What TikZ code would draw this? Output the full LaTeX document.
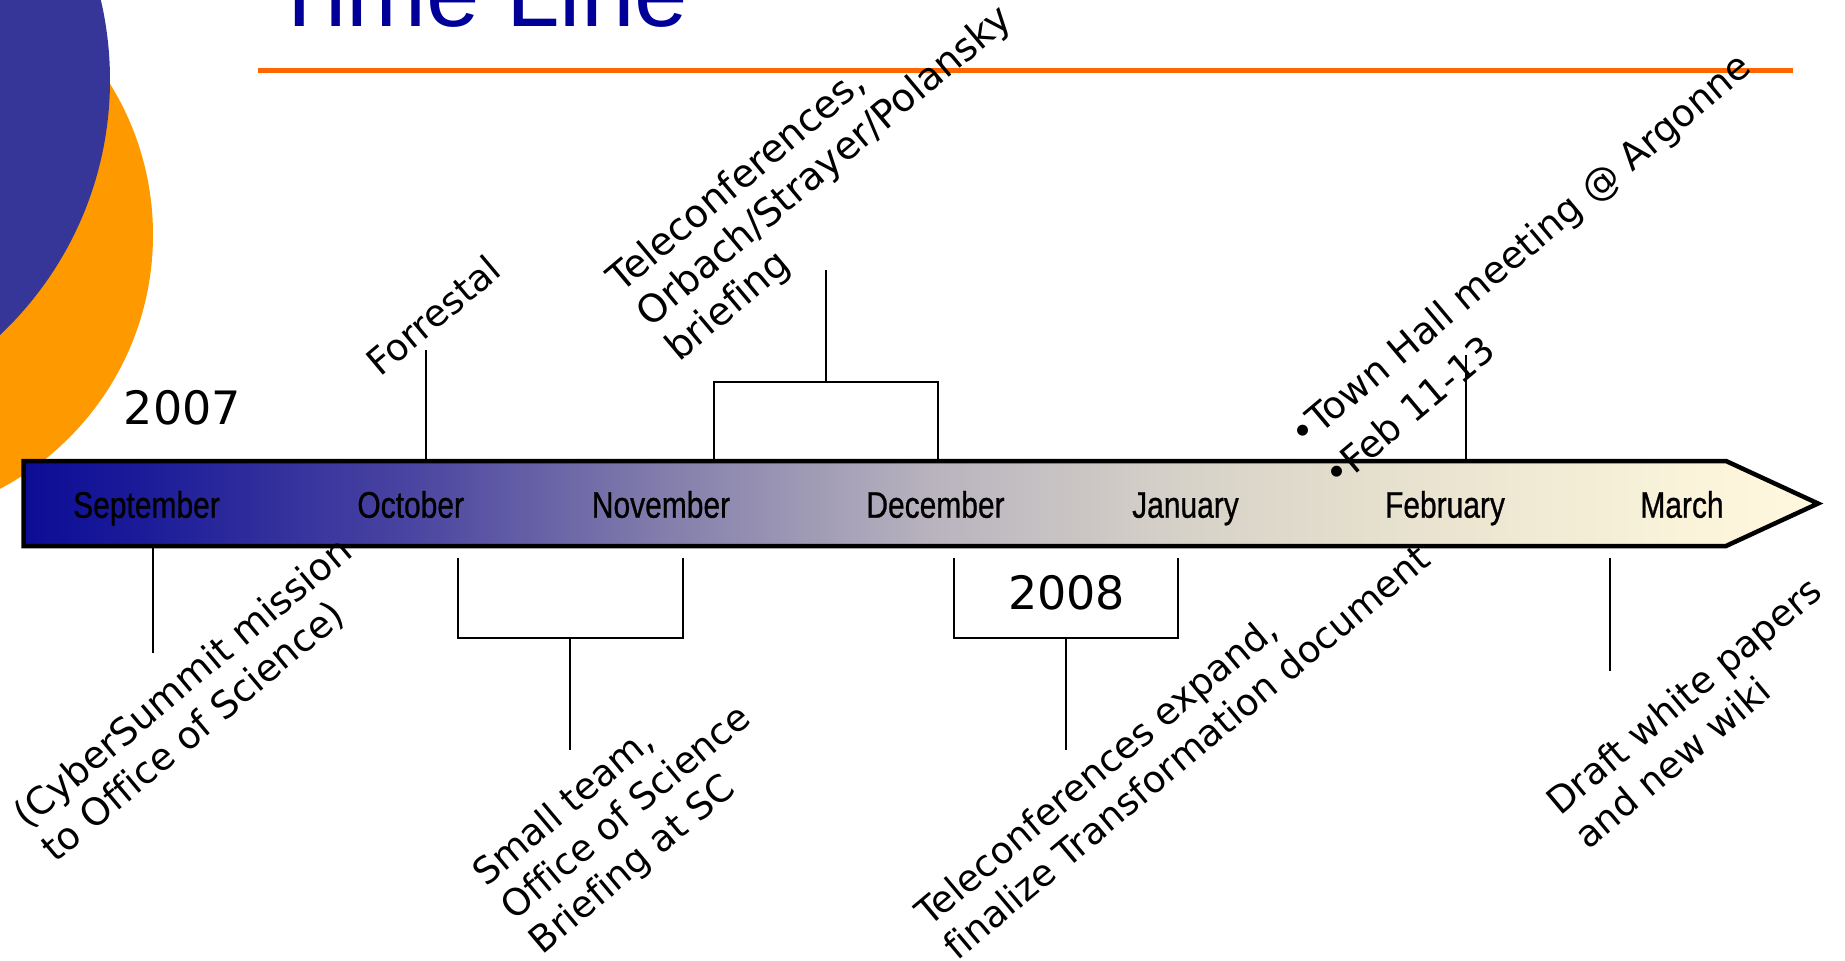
\documentclass[tikz,border=0pt]{standalone}
\usepackage{fontspec}
\setmainfont[Ligatures=NoCommon]{DejaVu Sans}
\newfontfamily\titlefont{Liberation Sans}
\newfontfamily\monthfont[FakeStretch=0.81,FakeBold=0.7]{Liberation Sans}
\definecolor{titleblue}{RGB}{0,0,153}
\definecolor{rulorange}{RGB}{255,102,0}
\definecolor{circorange}{RGB}{255,153,0}
\definecolor{circblue}{RGB}{54,54,153}
\pgfdeclarehorizontalshading{barshade}{100bp}{rgb(0bp)=(0.047,0.047,0.588); rgb(25bp)=(0.047,0.047,0.588); rgb(28.4bp)=(0.11,0.11,0.6); rgb(35.8bp)=(0.29,0.27,0.63); rgb(42.75bp)=(0.51,0.49,0.67); rgb(50.4bp)=(0.725,0.705,0.745); rgb(57.35bp)=(0.843,0.824,0.784); rgb(64.6bp)=(0.92,0.894,0.816); rgb(71.2bp)=(0.98,0.953,0.855); rgb(75bp)=(1,0.973,0.87); rgb(100bp)=(1,0.973,0.87)}
\tikzset{
  conn/.style={draw=black, line width=2pt},
  month/.style={font=\monthfont\fontsize{37}{44}\selectfont, anchor=base, inner sep=0pt},
  year/.style={font=\fontsize{46}{55}\selectfont, anchor=base, inner sep=0pt},
  lbl/.style={font=\fontsize{37}{44}\selectfont, anchor=base west, inner sep=0pt},
  lblbig/.style={font=\fontsize{38.5}{46}\selectfont, anchor=base west, inner sep=0pt},
  lblmid/.style={font=\fontsize{37.6}{45}\selectfont, anchor=base west, inner sep=0pt},
}
\begin{document}
\begin{tikzpicture}[x=1pt,y=-1pt]
\clip (0,0) rectangle (1845,961);
\fill[white] (0,0) rectangle (1845,961);
% decorative circles
\fill[circorange] (-134,235) circle[radius=287];
\fill[circblue] (-240.6,80) circle[radius=350.6];
% title and rule
\node[anchor=base west, inner sep=0pt, font=\titlefont\fontsize{96}{104}\selectfont, text=titleblue] (title) at (270,27) {Time Line};
\coordinate (ruleL) at (257.7,70.6);
\coordinate (ruleR) at (1793.3,70.6);
\draw[rulorange, line width=5.5pt] (ruleL) -- (ruleR);
% timeline bar
\shadedraw[shading=barshade, draw=black, line width=4.5pt, line join=miter]
  (23.5,461) -- (1726,461) -- (1818,503.5) -- (1726,546) -- (23.5,546) -- cycle;
% months
\node[month] (sep) at (146.5,517.7) {September};
\node[month] (oct) at (410.7,517.7) {October};
\node[month] (nov) at (661,517.7) {November};
\node[month] (dec) at (935.5,517.7) {December};
\node[month] (jan) at (1185.5,517.7) {January};
\node[month] (feb) at (1445,517.7) {February};
\node[month] (mar) at (1682,517.7) {March};
% years
\node[year] (y2007) at (182.4,424) {2007};
\node[year] (y2008) at (1066.7,609.5) {2008};
% connector end points
\coordinate (fA) at (426,461);   \coordinate (fB) at (426,349.5);
\coordinate (tA) at (714,461);   \coordinate (tB) at (714,382.4);
\coordinate (tC) at (938,382.4); \coordinate (tD) at (938,461);
\coordinate (tM) at (826,382.4); \coordinate (tS) at (826,269.5);
\coordinate (hA) at (1466,461);  \coordinate (hB) at (1466,355);
\coordinate (cA) at (153,546);   \coordinate (cB) at (153,653);
\coordinate (sA) at (457.7,557.7); \coordinate (sB) at (457.7,637.8);
\coordinate (sC) at (682.5,637.8); \coordinate (sD) at (682.5,557.7);
\coordinate (sM) at (570.1,637.8); \coordinate (sS) at (570.1,749.5);
\coordinate (eA) at (954,557.7); \coordinate (eB) at (954,637.8);
\coordinate (eC) at (1178,637.8); \coordinate (eD) at (1178,557.7);
\coordinate (eM) at (1066,637.8); \coordinate (eS) at (1066,749.5);
\coordinate (dA) at (1610,557.7); \coordinate (dB) at (1610,670.7);
% connectors
\draw[conn] (fA) -- (fB);
\draw[conn] (tA) -- (tB) -- (tC) -- (tD);
\draw[conn] (tM) -- (tS);
\draw[conn] (hA) -- (hB);
\draw[conn] (cA) -- (cB);
\draw[conn] (sA) -- (sB) -- (sC) -- (sD);
\draw[conn] (sM) -- (sS);
\draw[conn] (eA) -- (eB) -- (eC) -- (eD);
\draw[conn] (eM) -- (eS);
\draw[conn] (dA) -- (dB);
% rotated labels
\begin{scope}[shift={(380,378)}, rotate=40, transform shape]
  \node[lbl] (forr) at (0,0) {Forrestal};
\end{scope}
\begin{scope}[shift={(621,294)}, rotate=40, transform shape]
  \node[lblbig] (tel1) at (0,0) {Teleconferences,};
  \node[lblbig] (tel2) at (0,45) {Orbach/Strayer/Polansky};
  \node[lblbig] (tel3) at (0,90) {briefing};
\end{scope}
\begin{scope}[shift={(1303,449)}, rotate=40, transform shape]
  \node[lblmid] (town1) at (0,0) {•Town Hall meeting @ Argonne};
  \node[lblmid] (town2) at (0,53) {•Feb 11-13};
\end{scope}
\begin{scope}[shift={(27,830)}, rotate=40, transform shape]
  \node[lblmid] (cyb1) at (0,0) {(CyberSummit mission};
  \node[lblmid] (cyb2) at (0,44) {to Office of Science)};
\end{scope}
\begin{scope}[shift={(486,888)}, rotate=40, transform shape]
  \node[lbl] (sm1) at (0,0) {Small team,};
  \node[lbl] (sm2) at (0,44) {Office of Science};
  \node[lbl] (sm3) at (0,88) {Briefing at SC};
\end{scope}
\begin{scope}[shift={(929,928)}, rotate=40, transform shape]
  \node[lbl] (tx1) at (0,0) {Teleconferences expand,};
  \node[lbl] (tx2) at (0,44) {finalize Transformation document};
\end{scope}
\begin{scope}[shift={(1560,817)}, rotate=40, transform shape]
  \node[lbl] (dr1) at (0,0) {Draft white papers};
  \node[lbl] (dr2) at (0,44) {and new wiki};
\end{scope}
\end{tikzpicture}
\end{document}
